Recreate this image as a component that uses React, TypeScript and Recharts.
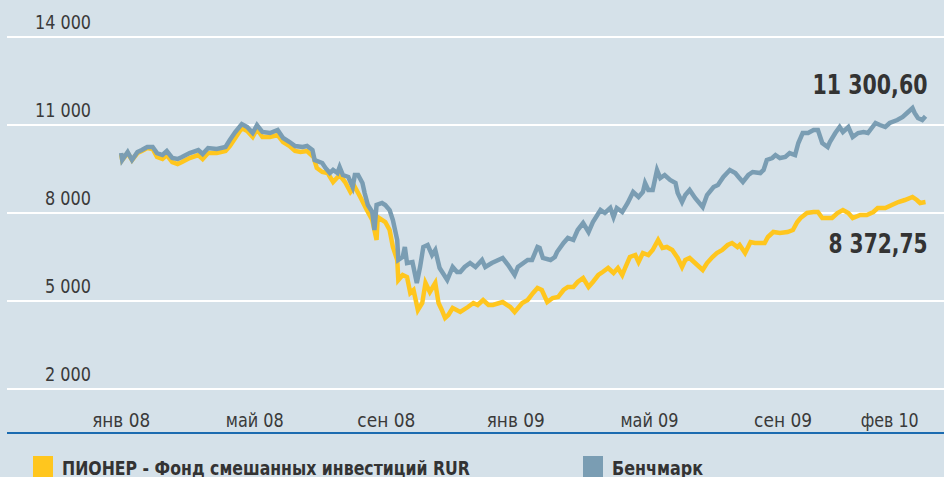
import { LineChart, Line, XAxis, YAxis, CartesianGrid } from "recharts";

// days counted from 1 Jan 2008
const benchDays = [
  0, 1, 6, 10, 15, 19, 24, 29, 33, 38, 42, 47, 52, 56, 63, 71, 75, 80, 88, 96,
  100, 105, 111, 116, 121, 125, 130, 137, 144, 149, 155, 160, 167, 171, 176, 178, 185, 188, 192, 195,
  199, 201, 204, 209, 213, 215, 218, 222, 224, 227, 231, 233, 235, 240, 243, 247, 250, 254, 255, 259,
  261, 263, 268, 272, 275, 278, 282, 286, 289, 293, 300, 305, 309, 312, 316, 321, 326, 332, 335, 341,
  351, 356, 362, 365, 374, 378, 383, 385, 388, 395, 399, 401, 407, 411, 416, 420, 425, 430, 434, 441,
  445, 450, 453, 456, 461, 466, 471, 476, 480, 482, 485, 489, 493, 496, 500, 505, 510, 512, 516, 519,
  523, 528, 535, 539, 545, 549, 554, 560, 565, 568, 572, 577, 581, 588, 591, 594, 599, 602, 606, 611,
  615, 620, 623, 627, 632, 637, 641, 645, 650, 652, 657, 661, 664, 669, 673, 678, 683, 687, 694, 698,
  703, 707, 714, 719, 723, 728, 730, 733, 737, 740,
];
const benchValues = [
  10045, 9807, 10079, 9807, 10079, 10147, 10250, 10250, 10045, 9977, 10113, 9875, 9841, 9909, 10045, 10147, 10011, 10216, 10182, 10250,
  10488, 10761, 11034, 10932, 10727, 11000, 10761, 10727, 10829, 10557, 10420, 10284, 10250, 10284, 10147, 9807, 9704, 9534, 9363, 9466,
  9363, 9568, 9295, 9227, 8886, 9295, 9295, 9023, 8682, 8273, 8034, 7420, 8273, 8341, 8273, 8102, 7761, 7079, 6398, 6500,
  6841, 6295, 6329, 5614, 6159, 6841, 6909, 6568, 6738, 6125, 5716, 6159, 5989, 5989, 6159, 6295, 6159, 6398, 6159, 6295,
  6466, 6227, 5886, 6159, 6398, 6398, 6841, 6807, 6466, 6398, 6500, 6670, 6977, 7148, 7079, 7420, 7659, 7352, 7693, 8102,
  8000, 8170, 7863, 8170, 8034, 8341, 8716, 8545, 8716, 9023, 8784, 8784, 9466, 9193, 9295, 9125, 9023, 8682, 8375, 8613,
  8784, 8511, 8204, 8613, 8886, 8954, 9227, 9466, 9363, 9227, 9057, 9295, 9398, 9363, 9466, 9807, 9875, 9977, 9875, 9909,
  10045, 9977, 10386, 10727, 10727, 10829, 10829, 10386, 10250, 10420, 10727, 10932, 10761, 10932, 10591, 10727, 10761, 10727, 11068, 11000,
  10932, 11068, 11170, 11272, 11409, 11579, 11409, 11238, 11170, 11300.6,
];

const fundDays = [
  0, 1, 6, 10, 15, 19, 24, 29, 33, 38, 42, 47, 52, 56, 63, 71, 75, 80, 88, 96,
  100, 105, 111, 116, 121, 125, 130, 137, 144, 149, 155, 160, 165, 171, 177, 180, 185, 190, 195, 201,
  206, 211, 215, 220, 226, 231, 235, 236, 243, 247, 250, 254, 255, 259, 263, 266, 269, 273, 277, 280,
  284, 289, 292, 295, 298, 301, 305, 312, 319, 324, 328, 333, 338, 342, 351, 358, 362, 369, 374, 379,
  383, 387, 392, 397, 402, 407, 411, 416, 420, 425, 430, 434, 439, 443, 448, 453, 457, 461, 464, 468,
  473, 476, 480, 485, 489, 494, 498, 502, 507, 512, 516, 519, 523, 528, 535, 539, 544, 548, 553, 558,
  562, 567, 569, 574, 579, 583, 588, 592, 595, 600, 606, 613, 618, 622, 625, 631, 637, 641, 645, 650,
  654, 659, 664, 669, 673, 680, 686, 692, 696, 703, 709, 715, 721, 728, 732, 735, 740,
];
const fundValues = [
  10011, 9807, 10045, 9807, 10045, 10113, 10216, 10182, 9909, 9841, 9977, 9738, 9670, 9738, 9875, 9977, 9841, 10045, 10045, 10113,
  10284, 10557, 10897, 10795, 10591, 10863, 10591, 10591, 10659, 10420, 10284, 10113, 10079, 10113, 9909, 9534, 9398, 9363, 9057, 9295,
  9057, 8716, 8886, 8545, 8102, 7761, 7079, 7863, 7693, 7420, 6841, 6398, 5716, 5886, 5818, 5273, 5375, 4693, 4932, 5614,
  5307, 5614, 4932, 4693, 4420, 4523, 4761, 4625, 4795, 4932, 4863, 5034, 4863, 4863, 4966, 4795, 4625, 4932, 5034, 5273,
  5443, 5375, 4966, 5102, 5136, 5375, 5477, 5477, 5648, 5784, 5477, 5648, 5886, 5989, 6125, 5954, 6125, 5886, 6159, 6500,
  6568, 6329, 6636, 6568, 6738, 7079, 6807, 6841, 6738, 6466, 6159, 6398, 6466, 6295, 6057, 6295, 6500, 6636, 6738, 6909,
  6977, 6841, 6909, 6636, 7011, 6977, 6977, 6977, 7182, 7352, 7318, 7352, 7420, 7693, 7829, 8000, 8034, 8034, 7829, 7829,
  7829, 8000, 8102, 8000, 7829, 7932, 7932, 8034, 8170, 8170, 8273, 8375, 8443, 8545, 8443, 8341, 8372.75,
];

const yTicks = [2000, 5000, 8000, 11000, 14000];
const monthTicks = [0, 123, 244, 363, 486, 609, 707];
const monthLabels = ["янв 08", "май 08", "сен 08", "янв 09", "май 09", "сен 09", "фев 10"];

const benchName = "Бенчмарк";
const fundName = "ПИОНЕР - Фонд смешанных инвестиций RUR";
const benchLast = "11 300,60";
const fundLast = "8 372,75";

const benchData = benchDays.map((d, i) => ({ day: d, value: benchValues[i] }));
const fundData = fundDays.map((d, i) => ({ day: d, value: fundValues[i] }));

const FONT = "'DejaVu Sans Condensed', 'DejaVu Sans', sans-serif";
const BG = "#d5e1e9";
const YELLOW = "#ffc61e";
const BLUE = "#7a9db3";
const TEXT = "#3a3a3a";

function fmt(v: number) {
  return String(v).replace(/\B(?=(\d{3})+(?!\d))/g, " ");
}

function YTick({ y, payload }: any) {
  const s = fmt(payload.value);
  return (
    <text
      x={91}
      y={y - 8}
      textAnchor="end"
      fontSize={20}
      fill={TEXT}
      fontFamily={FONT}
      textLength={s.length > 5 ? 56 : 46}
      lengthAdjust="spacingAndGlyphs"
    >
      {s}
    </text>
  );
}

function XTick({ x, y, payload }: any) {
  const idx = monthTicks.indexOf(payload.value);
  return (
    <text
      x={x}
      y={y}
      dy={-14}
      textAnchor="middle"
      fontSize={20}
      fill={TEXT}
      fontFamily={FONT}
      textLength={58}
      lengthAdjust="spacingAndGlyphs"
    >
      {monthLabels[idx]}
    </text>
  );
}

function endLabel(text: string, dy: number, count: number, len: number) {
  return (props: any) => {
    if (props.index !== count - 1) return null;
    return (
      <text
        key="end"
        x={props.x + 2}
        y={props.y + dy}
        textAnchor="end"
        fontSize={27}
        fontWeight="bold"
        fill="#333"
        fontFamily={FONT}
        textLength={len}
        lengthAdjust="spacingAndGlyphs"
      >
        {text}
      </text>
    );
  };
}

export default function App() {
  return (
    <div style={{ position: "relative", width: 944, height: 477, background: BG, overflow: "hidden" }}>
      <style>{"body{margin:0}"}</style>
      <LineChart width={944} height={477} margin={{ top: 37, right: 0, bottom: 0, left: 0 }}>
        <CartesianGrid vertical={false} stroke="#ffffff" strokeWidth={2} />
        <XAxis
          type="number"
          dataKey="day"
          domain={[-105, 757]}
          ticks={monthTicks}
          height={44}
          tickLine={false}
          axisLine={{ stroke: "#1b6bb0", strokeWidth: 2 }}
          tick={<XTick />}
          interval={0}
        />
        <YAxis
          type="number"
          domain={[500, 14000]}
          ticks={yTicks}
          width={7}
          axisLine={false}
          tickLine={false}
          tick={<YTick />}
          interval={0}
        />
        <Line
          data={fundData}
          dataKey="value"
          name={fundName}
          stroke={YELLOW}
          strokeWidth={4.5}
          dot={false}
          type="linear"
          isAnimationActive={false}
          label={endLabel(fundLast, 51, fundData.length, 99)}
        />
        <Line
          data={benchData}
          dataKey="value"
          name={benchName}
          stroke={BLUE}
          strokeWidth={4.5}
          dot={false}
          type="linear"
          isAnimationActive={false}
          label={endLabel(benchLast, -22, benchData.length, 115)}
        />
      </LineChart>
      <svg width={944} height={30} style={{ position: "absolute", left: 0, top: 447 }}>
        <rect x={33} y={9} width={20} height={21} fill={YELLOW} />
        <text x={62} y={28} fontSize={20} fontWeight="bold" fill="#333" fontFamily={FONT}
          textLength={408} lengthAdjust="spacingAndGlyphs">
          {fundName}
        </text>
        <rect x={583} y={9} width={20} height={21} fill={BLUE} />
        <text x={612} y={28} fontSize={20} fontWeight="bold" fill="#333" fontFamily={FONT}
          textLength={91} lengthAdjust="spacingAndGlyphs">
          {benchName}
        </text>
      </svg>
    </div>
  );
}
